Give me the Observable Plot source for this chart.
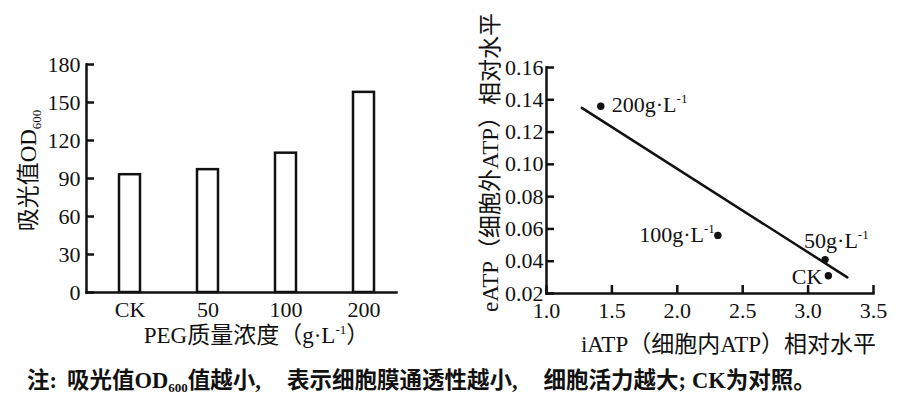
<!DOCTYPE html>
<html>
<head>
<meta charset="utf-8">
<script src="https://cdn.jsdelivr.net/npm/d3@7"></script>
<script src="https://cdn.jsdelivr.net/npm/@observablehq/plot@0.6"></script>
<style>
  html, body { margin: 0; padding: 0; background: #fff; }
  #row { display: flex; width: 898px; }
  #caption {
    font-family: "Liberation Serif", "Noto Sans CJK SC", serif;
    font-weight: bold; font-size: 22.5px; line-height: 26px;
    margin: 8px 0 0 27px; color: #111; white-space: nowrap;
  }
  #caption sub { font-size: 13px; vertical-align: -4px; line-height: 0; }
  #caption .c { margin-right: 10px; }
  #caption .p { margin-right: 26px; }
  #caption .s { margin-right: 6px; }
</style>
</head>
<body>
<div id="row"></div>
<div id="caption">注<span class="c">:</span>吸光值OD<sub>600</sub>值越小<span class="p">,</span>表示细胞膜通透性越小<span class="p">,</span>细胞活力越大<span class="s">;</span>CK为对照。</div>
<script>
const FONT = '"Liberation Serif", "Noto Sans CJK SC", serif';

// ---- Left panel data ----
const categories = ["CK", "50", "100", "200"];
const odValues = [93, 97, 110, 158];
const leftYTicks = [0, 30, 60, 90, 120, 150, 180];
const leftXTitle = "PEG质量浓度（g·L-1）";
const leftYTitle = "吸光值OD600";

// ---- Right panel data ----
const pointNames = ["CK", "50g·L-1", "100g·L-1", "200g·L-1"];
const iATP = [3.155, 3.13, 2.31, 1.415];
const eATP = [0.031, 0.041, 0.056, 0.136];
const fitX = [1.27, 3.30];
const fitY = [0.135, 0.030];
const rightXTicks = [1.0, 1.5, 2.0, 2.5, 3.0, 3.5];
const rightYTicks = [0.02, 0.04, 0.06, 0.08, 0.10, 0.12, 0.14, 0.16];
const rightXTitle = "iATP（细胞内ATP）相对水平";
const rightYTitle = "eATP（细胞外ATP）相对水平";

const bars = categories.map((c, i) => ({cat: c, od: odValues[i]}));
const points = pointNames.map((n, i) => ({name: n, x: iATP[i], y: eATP[i]}));
const fit = fitX.map((x, i) => ({x, y: fitY[i]}));

const style = {fontFamily: FONT, fontSize: "22px", color: "#111", background: "white", overflow: "visible"};
const SW = 2.5;
const TITLE = 23;

const left = Plot.plot({
  width: 440, height: 360,
  marginLeft: 86, marginRight: 44, marginTop: 64, marginBottom: 68,
  style,
  x: {domain: categories, range: [89.5, 404.5], paddingInner: 0.728, paddingOuter: 0.364, label: null},
  y: {domain: [0, 180], label: null},
  marks: [
    Plot.barY(bars, {x: "cat", y: "od", fill: "white", stroke: "#111", strokeWidth: SW}),
    Plot.axisY({ticks: leftYTicks, tickSize: 8, dx: 8, tickPadding: 6, strokeWidth: SW, fontSize: 22, label: null}),
    Plot.axisX({tickSize: 0, tickPadding: 9, fontSize: 22, label: null}),
    Plot.frame({anchor: "left", strokeWidth: SW, stroke: "#111"}),
    Plot.frame({anchor: "bottom", strokeWidth: SW, stroke: "#111"}),
    Plot.text([leftXTitle], {frameAnchor: "bottom", text: d => d, textAnchor: "middle", dx: 15, dy: 43, fontSize: TITLE, lineAnchor: "middle", fill: "#111"}),
    Plot.text([leftYTitle], {frameAnchor: "left", text: d => d, textAnchor: "middle", rotate: -90, dx: -58, dy: -8, fontSize: TITLE, lineAnchor: "middle", fill: "#111"})
  ]
});

const right = Plot.plot({
  width: 458, height: 360,
  marginLeft: 106, marginRight: 25, marginTop: 67, marginBottom: 67,
  style,
  x: {domain: [1.0, 3.5], label: null},
  y: {domain: [0.02, 0.16], label: null},
  marks: [
    Plot.line(fit, {x: "x", y: "y", stroke: "#111", strokeWidth: SW}),
    Plot.dot(points, {x: "x", y: "y", r: 3.7, fill: "#111", stroke: "none"}),
    Plot.text(points, {filter: d => d.name === "200g·L-1", x: "x", y: "y", text: "name", textAnchor: "start", dx: 11, dy: -1, fontSize: 22, fill: "#111"}),
    Plot.text(points, {filter: d => d.name === "100g·L-1", x: "x", y: "y", text: "name", textAnchor: "end", dx: -3, dy: 0, fontSize: 22, fill: "#111"}),
    Plot.text(points, {filter: d => d.name === "50g·L-1", x: "x", y: "y", text: "name", textAnchor: "start", dx: -21, dy: -19, fontSize: 22, fill: "#111"}),
    Plot.text(points, {filter: d => d.name === "CK", x: "x", y: "y", text: "name", textAnchor: "end", dx: -6, dy: 1, fontSize: 22, fill: "#111"}),
    Plot.axisY({ticks: rightYTicks, tickFormat: d3.format(".2f"), tickSize: 8, dx: 8, tickPadding: 3, strokeWidth: SW, fontSize: 22, label: null}),
    Plot.axisX({ticks: rightXTicks, tickFormat: d3.format(".1f"), tickSize: 8, dy: -8, tickPadding: 9, strokeWidth: SW, fontSize: 22, label: null}),
    Plot.frame({anchor: "left", strokeWidth: SW, stroke: "#111"}),
    Plot.frame({anchor: "bottom", strokeWidth: SW, stroke: "#111"}),
    Plot.text([rightXTitle], {frameAnchor: "bottom", text: d => d, textAnchor: "middle", dx: 18.5, dy: 51, fontSize: TITLE, lineAnchor: "middle", fill: "#111"}),
    Plot.text([rightYTitle], {frameAnchor: "left", text: d => d, textAnchor: "middle", rotate: -90, dx: -56, dy: -18, fontSize: TITLE, lineAnchor: "middle", fill: "#111"})
  ]
});

// Render subscripts / superscripts as real tspans
function richify(svg) {
  d3.select(svg).selectAll("text").each(function() {
    if (this.querySelector("tspan")) return;
    const t = this.textContent;
    const parts = t.split(/(600|-1)/).filter(p => p !== "");
    if (parts.length < 2) return;
    const sel = d3.select(this);
    sel.text(null);
    let shift = 0;
    for (const p of parts) {
      const s = p === "600" ? 5 : p === "-1" ? -9 : 0;
      const ts = sel.append("tspan").text(p).attr("dy", s - shift);
      if (s) ts.attr("font-size", "13px");
      shift = s;
    }
  });
}
richify(left);
richify(right);

document.getElementById("row").append(left, right);
</script>
</body>
</html>
